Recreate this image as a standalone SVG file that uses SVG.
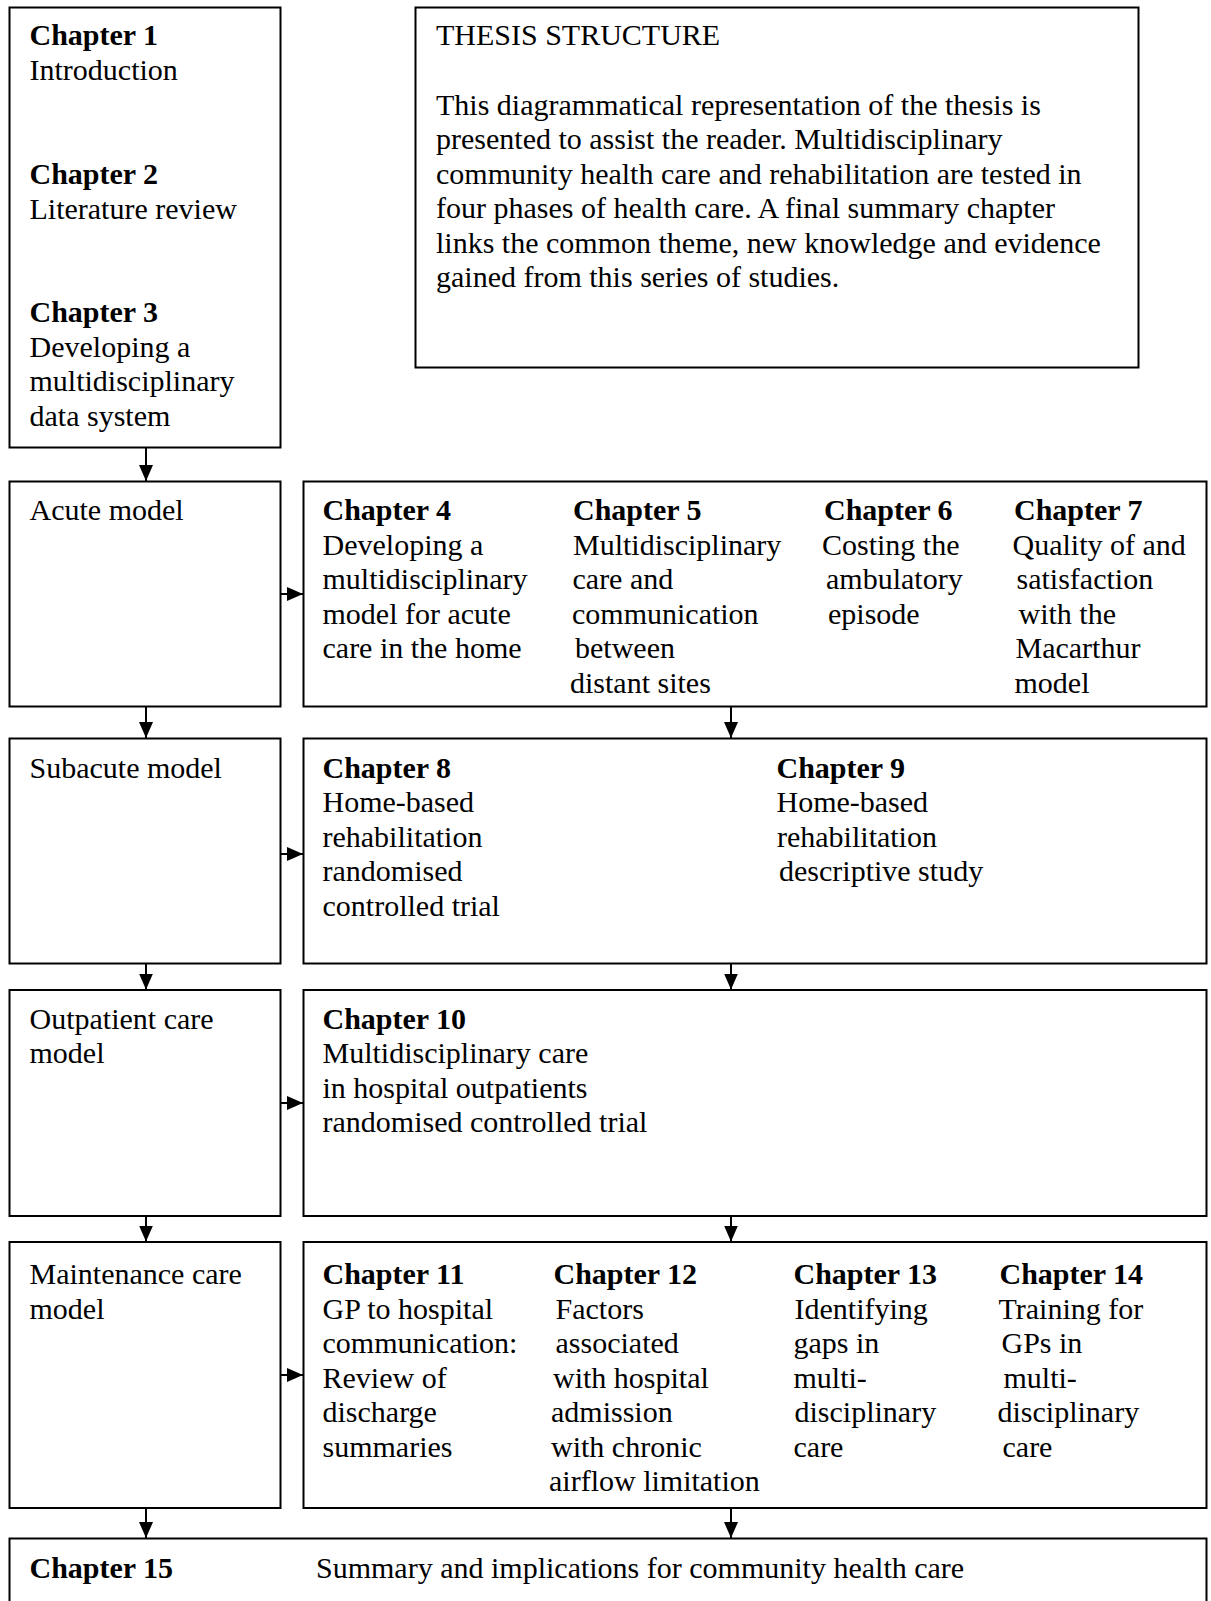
<svg xmlns="http://www.w3.org/2000/svg" width="1211" height="1601" viewBox="0 0 1211 1601">
<style>
  .box { fill: #ffffff; stroke: #000000; stroke-width: 2; }
  .t { font-family: "Liberation Serif", "Times New Roman", serif; font-size: 30px; fill: #000000; }
  .b { font-weight: bold; }
  .conn { stroke: #000000; stroke-width: 2; fill: none; }
</style>
<defs>
  <marker id="ah" viewBox="0 0 16 16" refX="16" refY="8" markerWidth="16" markerHeight="16" markerUnits="userSpaceOnUse" orient="auto">
    <path d="M0,1 L16,8 L0,15 Z" fill="#000000"/>
  </marker>
</defs>
<rect width="1211" height="1601" fill="#ffffff"/>

<g id="chapters-1-3">
  <rect class="box" x="9.5" y="7.5" width="271" height="440"/>
  <text class="t b" x="29.5" y="45">Chapter 1</text>
  <text class="t" x="29.5" y="80">Introduction</text>
  <text class="t b" x="29.5" y="184">Chapter 2</text>
  <text class="t" x="29.5" y="218.5">Literature review</text>
  <text class="t b" x="29.5" y="322">Chapter 3</text>
  <text class="t" x="29.5" y="356.5">Developing a</text>
  <text class="t" x="29.5" y="391">multidisciplinary</text>
  <text class="t" x="29.5" y="425.5">data system</text>
</g>

<g id="thesis-structure">
  <rect class="box" x="415.5" y="7.5" width="723" height="360"/>
  <text class="t" x="436" y="45">THESIS STRUCTURE</text>
  <text class="t" x="436" y="114.5">This diagrammatical representation of the thesis is</text>
  <text class="t" x="436" y="149">presented to assist the reader. Multidisciplinary</text>
  <text class="t" x="436" y="183.5">community health care and rehabilitation are tested in</text>
  <text class="t" x="436" y="218">four phases of health care. A final summary chapter</text>
  <text class="t" x="436" y="252.5">links the common theme, new knowledge and evidence</text>
  <text class="t" x="436" y="287">gained from this series of studies.</text>
</g>

<g id="acute-model">
  <rect class="box" x="9.5" y="481.5" width="271" height="225"/>
  <text class="t" x="29.5" y="520">Acute model</text>
</g>

<g id="acute-chapters">
  <rect class="box" x="303.5" y="481.5" width="903" height="225"/>
  <text class="t b" x="322.5" y="520">Chapter 4</text>
  <text class="t" x="322.5" y="554.5">Developing a</text>
  <text class="t" x="322.5" y="589">multidisciplinary</text>
  <text class="t" x="322.5" y="623.5">model for acute</text>
  <text class="t" x="322.5" y="658">care in the home</text>
  <text class="t b" x="573" y="520">Chapter 5</text>
  <text class="t" x="573" y="554.5">Multidisciplinary</text>
  <text class="t" x="572.5" y="589">care and</text>
  <text class="t" x="572" y="623.5">communication</text>
  <text class="t" x="575" y="658">between</text>
  <text class="t" x="570" y="692.5">distant sites</text>
  <text class="t b" x="824" y="520">Chapter 6</text>
  <text class="t" x="822" y="554.5">Costing the</text>
  <text class="t" x="826" y="589">ambulatory</text>
  <text class="t" x="828" y="623.5">episode</text>
  <text class="t b" x="1014" y="520">Chapter 7</text>
  <text class="t" x="1012.5" y="554.5">Quality of and</text>
  <text class="t" x="1016.5" y="589">satisfaction</text>
  <text class="t" x="1018.5" y="623.5">with the</text>
  <text class="t" x="1015.5" y="658">Macarthur</text>
  <text class="t" x="1014.5" y="692.5">model</text>
</g>

<g id="subacute-model">
  <rect class="box" x="9.5" y="738.5" width="271" height="225"/>
  <text class="t" x="29.5" y="777.5">Subacute model</text>
</g>

<g id="subacute-chapters">
  <rect class="box" x="303.5" y="738.5" width="903" height="225"/>
  <text class="t b" x="322.5" y="777.5">Chapter 8</text>
  <text class="t" x="322.5" y="812">Home-based</text>
  <text class="t" x="322.5" y="846.5">rehabilitation</text>
  <text class="t" x="322.5" y="881">randomised</text>
  <text class="t" x="322.5" y="915.5">controlled trial</text>
  <text class="t b" x="776.5" y="777.5">Chapter 9</text>
  <text class="t" x="776.5" y="812">Home-based</text>
  <text class="t" x="777" y="846.5">rehabilitation</text>
  <text class="t" x="779" y="881">descriptive study</text>
</g>

<g id="outpatient-model">
  <rect class="box" x="9.5" y="990" width="271" height="226"/>
  <text class="t" x="29.5" y="1028.5">Outpatient care</text>
  <text class="t" x="29.5" y="1063">model</text>
</g>

<g id="outpatient-chapters">
  <rect class="box" x="303.5" y="990" width="903" height="226"/>
  <text class="t b" x="322.5" y="1028.5">Chapter 10</text>
  <text class="t" x="322.5" y="1063">Multidisciplinary care</text>
  <text class="t" x="322.5" y="1097.5">in hospital outpatients</text>
  <text class="t" x="322.5" y="1132">randomised controlled trial</text>
</g>

<g id="maintenance-model">
  <rect class="box" x="9.5" y="1242" width="271" height="266"/>
  <text class="t" x="29.5" y="1284">Maintenance care</text>
  <text class="t" x="29.5" y="1318.5">model</text>
</g>

<g id="maintenance-chapters">
  <rect class="box" x="303.5" y="1242" width="903" height="266"/>
  <text class="t b" x="322.5" y="1284">Chapter 11</text>
  <text class="t" x="322.5" y="1318.5">GP to hospital</text>
  <text class="t" x="322.5" y="1353">communication:</text>
  <text class="t" x="322.5" y="1387.5">Review of</text>
  <text class="t" x="322.5" y="1422">discharge</text>
  <text class="t" x="322.5" y="1456.5">summaries</text>
  <text class="t b" x="553.5" y="1284">Chapter 12</text>
  <text class="t" x="555.5" y="1318.5">Factors</text>
  <text class="t" x="555.5" y="1353">associated</text>
  <text class="t" x="553" y="1387.5">with hospital</text>
  <text class="t" x="551" y="1422">admission</text>
  <text class="t" x="551" y="1456.5">with chronic</text>
  <text class="t" x="549" y="1491">airflow limitation</text>
  <text class="t b" x="793.5" y="1284">Chapter 13</text>
  <text class="t" x="794.5" y="1318.5">Identifying</text>
  <text class="t" x="793.5" y="1353">gaps in</text>
  <text class="t" x="793.5" y="1387.5">multi-</text>
  <text class="t" x="794.5" y="1422">disciplinary</text>
  <text class="t" x="793.5" y="1456.5">care</text>
  <text class="t b" x="999.5" y="1284">Chapter 14</text>
  <text class="t" x="998.5" y="1318.5">Training for</text>
  <text class="t" x="1001.5" y="1353">GPs in</text>
  <text class="t" x="1003.5" y="1387.5">multi-</text>
  <text class="t" x="997.5" y="1422">disciplinary</text>
  <text class="t" x="1002.5" y="1456.5">care</text>
</g>

<g id="chapter-15">
  <rect class="box" x="9.5" y="1538.5" width="1197" height="80"/>
  <text class="t b" x="29.5" y="1578">Chapter 15</text>
  <text class="t" x="316" y="1578">Summary and implications for community health care</text>
</g>

<g id="connectors">
  <line class="conn" x1="146" y1="448" x2="146" y2="481" marker-end="url(#ah)"/>
  <line class="conn" x1="281" y1="594" x2="303" y2="594" marker-end="url(#ah)"/>
  <line class="conn" x1="146" y1="707" x2="146" y2="738" marker-end="url(#ah)"/>
  <line class="conn" x1="731" y1="707" x2="731" y2="738" marker-end="url(#ah)"/>
  <line class="conn" x1="281" y1="854" x2="303" y2="854" marker-end="url(#ah)"/>
  <line class="conn" x1="146" y1="964" x2="146" y2="989.5" marker-end="url(#ah)"/>
  <line class="conn" x1="731" y1="964" x2="731" y2="989.5" marker-end="url(#ah)"/>
  <line class="conn" x1="281" y1="1103" x2="303" y2="1103" marker-end="url(#ah)"/>
  <line class="conn" x1="146" y1="1216" x2="146" y2="1241.5" marker-end="url(#ah)"/>
  <line class="conn" x1="731" y1="1216" x2="731" y2="1241.5" marker-end="url(#ah)"/>
  <line class="conn" x1="281" y1="1375" x2="303" y2="1375" marker-end="url(#ah)"/>
  <line class="conn" x1="146" y1="1508" x2="146" y2="1538" marker-end="url(#ah)"/>
  <line class="conn" x1="731" y1="1508" x2="731" y2="1538" marker-end="url(#ah)"/>
</g>
</svg>
